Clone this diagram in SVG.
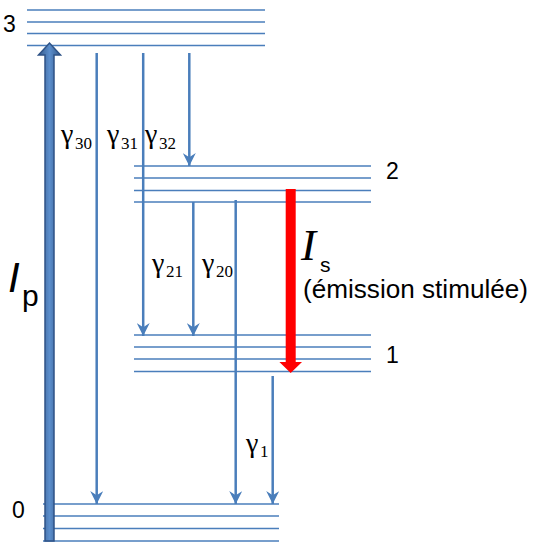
<svg xmlns="http://www.w3.org/2000/svg" width="537" height="544" viewBox="0 0 537 544">
<style>
.lvl{stroke:#4A7EBB;stroke-width:1.5;fill:none}
.tr{stroke:#4A7EBB;stroke-width:2.5;fill:none;marker-end:url(#ah)}
.num{font-family:"Liberation Sans",Arial,sans-serif;font-size:23px;fill:#000}
.g{font-family:"Liberation Serif","Times New Roman",serif;fill:#000}
.gs{font-size:28px}
.sub{font-size:17px}
</style>
<defs>
<marker id="ah" markerUnits="userSpaceOnUse" markerWidth="13" markerHeight="13" viewBox="0 0 12 12" refX="12" refY="6" orient="auto">
<path d="M0,0 L12,6 L0,12 L4,6 Z" fill="#4A7EBB"/>
</marker>
<linearGradient id="pg" x1="0" y1="0" x2="1" y2="0">
<stop offset="0" stop-color="#35598A"/>
<stop offset="0.5" stop-color="#5B8ECC"/>
<stop offset="1" stop-color="#35598A"/>
</linearGradient>
</defs>
<g id="level3">
<line class="lvl" x1="27" y1="10" x2="265" y2="10"/>
<line class="lvl" x1="27" y1="22" x2="265" y2="22"/>
<line class="lvl" x1="27" y1="33.5" x2="265" y2="33.5"/>
<line class="lvl" x1="27" y1="45.5" x2="265" y2="45.5"/>
<text class="num" x="3" y="32">3</text>
</g>
<g id="level2">
<line class="lvl" x1="134" y1="166" x2="371" y2="166"/>
<line class="lvl" x1="134" y1="178" x2="371" y2="178"/>
<line class="lvl" x1="134" y1="190.5" x2="371" y2="190.5"/>
<line class="lvl" x1="134" y1="202" x2="371" y2="202"/>
<text class="num" x="386" y="179">2</text>
</g>
<g id="level1">
<line class="lvl" x1="134" y1="335" x2="371" y2="335"/>
<line class="lvl" x1="134" y1="347" x2="371" y2="347"/>
<line class="lvl" x1="134" y1="359" x2="371" y2="359"/>
<line class="lvl" x1="134" y1="371.5" x2="371" y2="371.5"/>
<text class="num" x="386" y="363">1</text>
</g>
<g id="level0">
<line class="lvl" x1="43" y1="504" x2="279" y2="504"/>
<line class="lvl" x1="43" y1="516" x2="279" y2="516"/>
<line class="lvl" x1="43" y1="528.5" x2="279" y2="528.5"/>
<line class="lvl" x1="43" y1="541" x2="279" y2="541"/>
<text class="num" x="12" y="518">0</text>
</g>
<g id="connectors">
<line class="tr" x1="96.7" y1="53" x2="96.7" y2="504"/>
<line class="tr" x1="143.2" y1="53" x2="143.2" y2="336"/>
<line class="tr" x1="189.3" y1="53" x2="189.3" y2="166"/>
<line class="tr" x1="193.3" y1="202" x2="193.3" y2="336"/>
<line class="tr" x1="235.7" y1="200" x2="235.7" y2="504"/>
<line class="tr" x1="272.7" y1="376" x2="272.7" y2="504"/>
</g>
<g id="pump">
<path d="M45,541 L45,55 L38.5,55 L49.5,43 L60.5,55 L54,55 L54,541 Z" fill="url(#pg)" stroke="#2F5387" stroke-width="1.5" stroke-linejoin="miter"/>
<text x="8" y="292" font-family="Liberation Sans,Arial,sans-serif" font-style="italic" font-size="42">I</text>
<text x="22" y="306" font-family="Liberation Sans,Arial,sans-serif" font-size="30">p</text>
</g>
<g id="stimulated">
<path d="M285.7,189 L295.7,189 L295.7,362 L302,362 L290.7,373 L279.4,362 L285.7,362 Z" fill="#FF0000"/>
<text x="301" y="260" font-family="Liberation Serif,'Times New Roman',serif" font-style="italic" font-size="45">I</text>
<text x="320" y="272" font-family="Liberation Sans,Arial,sans-serif" font-size="21">s</text>
<text x="303" y="298" font-family="Liberation Sans,Arial,sans-serif" font-size="25" textLength="225" lengthAdjust="spacingAndGlyphs">(émission stimulée)</text>
</g>
<g id="labels">
<text class="g"><tspan class="gs" x="61" y="143">γ</tspan><tspan class="sub" x="75" y="149">30</tspan></text>
<text class="g"><tspan class="gs" x="107" y="143">γ</tspan><tspan class="sub" x="121" y="149">31</tspan></text>
<text class="g"><tspan class="gs" x="145" y="143">γ</tspan><tspan class="sub" x="159" y="149">32</tspan></text>
<text class="g"><tspan class="gs" x="152" y="272">γ</tspan><tspan class="sub" x="166" y="277">21</tspan></text>
<text class="g"><tspan class="gs" x="202" y="272">γ</tspan><tspan class="sub" x="216" y="277">20</tspan></text>
<text class="g"><tspan class="gs" x="246" y="452">γ</tspan><tspan class="sub" x="260" y="457">1</tspan></text>
</g>
</svg>
